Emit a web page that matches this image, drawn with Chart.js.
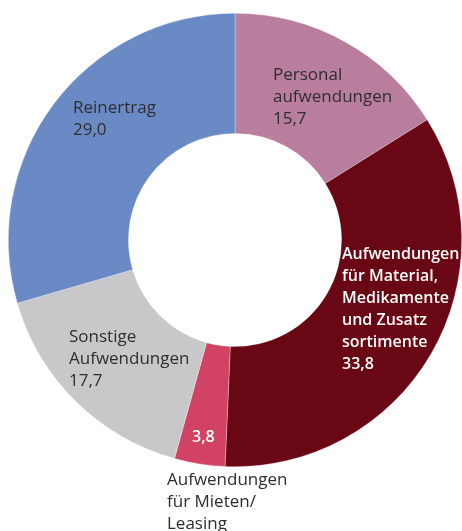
<!DOCTYPE html>
<html>
<head>
<meta charset="utf-8">
<script src="https://cdn.jsdelivr.net/npm/chart.js@4/dist/chart.umd.min.js"></script>
<style>
  html, body { margin: 0; padding: 0; background: #fff; }
  #wrap { width: 462px; height: 531px; }
</style>
</head>
<body>
<div id="wrap"><canvas id="donut"></canvas></div>
<script>
const categories = [
  'Personalaufwendungen',
  'Aufwendungen für Material, Medikamente und Zusatzsortimente',
  'Aufwendungen für Mieten/Leasing',
  'Sonstige Aufwendungen',
  'Reinertrag',
];
// slice sizes as they are drawn in the picture (printed figures are in labelLines)
const values = [16.1, 34.6, 3.6, 16.2, 29.5];
const colors = ['#b97d9e', '#690714', '#d24264', '#c8c8ca', '#6a8ac6'];

// label text lines, one list per slice
const labelLines = [
  ['Personal', 'aufwendungen', '15,7'],
  ['Aufwendungen', 'für Material,', 'Medikamente', 'und Zusatz', 'sortimente', '33,8'],
  ['3,8'],
  ['Sonstige', 'Aufwendungen', '17,7'],
  ['Reinertrag', '29,0'],
];

// where each label block sits, relative to the doughnut centre
const labelStyle = [
  { dx: 38, dy: -165, color: '#2e2e2e', bold: false },
  { dx: 107, dy: 14, color: '#ffffff', bold: true },
  { dx: -43, dy: 197, color: '#ffffff', bold: true },
  { dx: -166, dy: 97, color: '#2e2e2e', bold: false },
  { dx: -162, dy: -132, color: '#2e2e2e', bold: false },
];
const extraLabel = { lines: ['Aufwendungen', 'für Mieten/', 'Leasing'], dx: -68, dy: 240 };

const labelPlugin = {
  id: 'sliceLabels',
  afterDraw(chart) {
    const { ctx } = chart;
    const arc = chart.getDatasetMeta(0).data[0];
    const cx = arc.x;
    const cy = arc.y;
    const lineH = 22;

    function block(lines, x, y, color, bold) {
      ctx.fillStyle = color;
      ctx.font = bold ? '600 16px "Open Sans"' : '400 17px "Open Sans"';
      lines.forEach((line, i) => {
        ctx.fillText(line, x, y + i * lineH);
      });
    }

    ctx.save();
    ctx.textAlign = 'left';
    ctx.textBaseline = 'middle';
    labelLines.forEach((lines, i) => {
      const s = labelStyle[i];
      block(lines, cx + s.dx, cy + s.dy, s.color, s.bold);
    });
    block(extraLabel.lines, cx + extraLabel.dx, cy + extraLabel.dy, '#2e2e2e', false);
    ctx.restore();
  },
};

new Chart(document.getElementById('donut'), {
  type: 'doughnut',
  data: {
    labels: categories,
    datasets: [
      {
        data: values,
        backgroundColor: colors,
        borderColor: 'rgba(255,255,255,0.5)',
        borderWidth: 0.6,
        hoverOffset: 0,
      },
    ],
  },
  options: {
    responsive: true,
    maintainAspectRatio: false,
    animation: false,
    cutout: '47%',
    layout: {
      padding: { left: 8, right: 0, top: 13, bottom: 64 },
    },
    plugins: {
      legend: { display: false },
      tooltip: { enabled: false },
    },
  },
  plugins: [labelPlugin],
});
</script>
</body>
</html>
